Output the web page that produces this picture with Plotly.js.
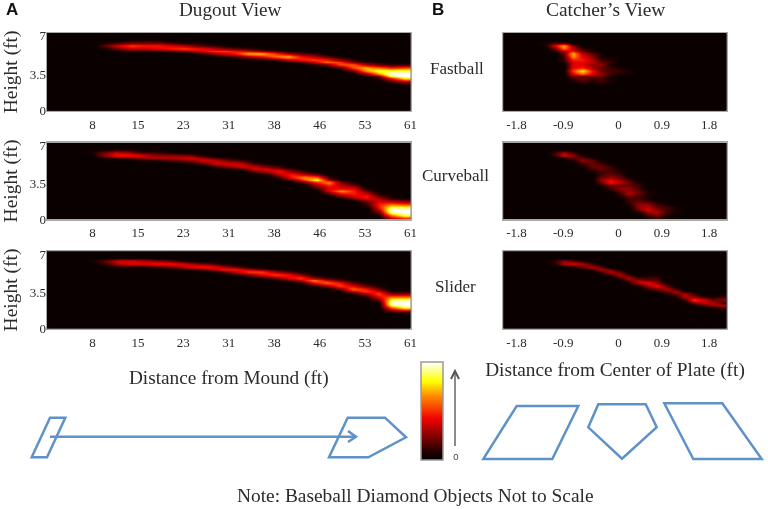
<!DOCTYPE html>
<html>
<head>
<meta charset="utf-8">
<script src="https://cdn.plot.ly/plotly-3.0.1.min.js"></script>
<style>
  html, body { margin: 0; padding: 0; background: #fff; }
  #chart { width: 768px; height: 509px; filter: blur(0.45px); }
</style>
</head>
<body>
<div id="chart"></div>
<script>
// every heatmap is a list of columns: [first row from the top, value, value, ...], values 0-15
const fastballDugout = [[],[],[],[],[3,1,3,1],[3,2,6,3,1],[2,1,3,8,5,1],[2,1,3,7,5,1],[2,1,3,7,6,1],[3,2,6,7,2],
  [3,1,5,8,3],[3,1,3,7,5,1],[4,2,6,7,3],[4,1,4,8,5,1],[5,3,7,7,2],[5,2,6,11,4,1],[5,1,4,11,6,1],[6,3,8,9,2],
  [6,1,5,11,5,1],[7,3,7,7,2],[7,2,5,8,5,1],[8,3,7,9,3],[8,1,4,8,8,2],[9,2,4,9,8,3],[10,2,5,11,10,4,1],
  [10,1,3,9,13,10,3,1],[11,2,7,13,15,13,6,2],[11,2,8,13,15,15,11,4,1]];
const curveballDugout = [[],[],[],[3,1],[3,3,4,1],[2,1,5,7,2],[2,1,4,7,3],[3,2,6,4,1],[3,2,4,5,1],[3,1,4,5,2],
  [4,4,5,3],[4,3,6,4,1],[4,1,4,6,3],[5,2,5,6,2],[5,1,3,6,4,1],[6,2,5,6,2],[7,2,5,6,3],[7,1,3,6,5,1],
  [8,2,4,7,5,2],[9,2,4,7,7,3],[10,2,5,10,8,3],[11,3,9,13,7,4,2],[12,2,4,10,7,6,6,3],[13,1,3,5,6,10,7,3],[14,1,3,6,7,7,6,3],
  [16,1,3,5,7,6,3,2],[18,1,3,5,6,7,7,5,3,1],[19,1,2,5,9,13,15,14,9,5],[20,1,4,8,13,15,15,13,7]];
const sliderDugout = [[],[],[],[3,1],[3,3,2],[2,1,6,5,1],[2,1,6,6,1],[2,1,5,6,1],[3,4,7,2],[3,3,7,3],
  [3,1,6,5,1],[4,4,7,2],[4,3,7,4],[4,1,5,7,2],[5,3,7,5,1],[5,1,5,8,3],[6,3,8,6,1],[6,1,5,8,3],[7,3,7,6,2],
  [7,1,4,8,5,1],[8,1,4,10,6,1],[9,2,6,9,4],[9,1,3,7,8,3],[10,1,3,6,9,5,1],[11,1,3,7,8,4,1],[12,1,3,6,8,6,3],
  [14,1,4,9,13,15,13,8,3],[14,1,4,9,14,15,15,12,4]];
const fastballCatcher = [[],[],[],[],[3,1,1],[3,2,6,3,1],[3,2,11,9,4,3,2,2,1],
  [4,4,5,7,11,10,7,6,6,6,8,6,3,2,1],[5,2,3,5,6,7,6,6,7,12,9,3,3,2],[5,1,1,3,4,5,5,4,4,7,6,3,2,1],
  [7,1,1,2,3,4,3,3,4,3,2,2,1],[8,1,1,2,1,2,2,2,1,1,1],[12,1,2,1],[13,1,1],[],[],[],[],[],[],[],[],[],[]];
const curveballCatcher = [[],[],[],[],[],[3,2,2],[3,4,6,1],[3,2,4,3,1],[4,1,3,4,2,1],[5,1,3,3,3,2,1],
  [6,1,2,3,3,2,2,3,4,3,1],[8,2,2,2,3,4,6,7,3,2,1],[9,1,1,2,3,4,5,3,4,3,2,1],
  [12,1,2,3,3,4,4,5,3,2,2,1],[14,1,2,2,3,3,2,2,3,4,4,3,1],[17,1,1,1,1,2,4,5,6,4,2,1],
  [21,1,2,3,4,5,3,2],[22,1,2,2,2,1,1],[23,1,1,1],[],[],[],[],[]];
const sliderCatcher = [[],[],[],[],[],[3,2,1],[3,4,5],[3,3,6,1],[3,1,5,3],[4,2,5,2],
  [5,3,5,2],[6,3,5,2],[7,3,5,2],[8,2,5,3,1],[9,2,5,5,1],[8,1,2,3,7,4,2],[8,1,2,3,4,7,3,1],
  [11,1,3,5,3,1],[13,2,5,3,1],[14,1,5,5,2],[15,2,4,8,3],[16,2,6,5,2],[16,1,3,5,4,1],[16,2,4,2,5,2]];

const pitchNames = ['Fastball', 'Curveball', 'Slider'];
const moundTicks = [7.625, 15.25, 22.875, 30.5, 38.125, 45.75, 53.375, 61];
const moundLabels = ['8', '15', '23', '31', '38', '46', '53', '61'];
const plateTicks = [-1.83, -0.95, 0.09, 0.91, 1.8];
const plateLabels = ['-1.8', '-0.9', '0', '0.9', '1.8'];
const heightTicks = [0, 3.3, 6.75];
const heightLabels = ['0', '3.5', '7'];

const W = 768, H = 509, ROWS = 28;
const SERIF = '"Liberation Serif", serif';
const INK = '#2b2b2b', BLUE = '#5f92c8', FRAME = '#a8a8a8';
const hot = [[0, '#0a0000'], [0.07, '#1a0000'], [0.42, '#f00000'], [0.66, '#ff9000'], [0.8, '#ffff00'], [1, '#ffffff']];
const rowTops = [[33.1, 110.7], [142.7, 219.3], [251.3, 328.7]];
const px = x => x / W, py = y => 1 - y / H;

// columns -> z, bottom row first
function toZ(cols) {
  const z = [];
  for (let r = ROWS - 1; r >= 0; r--) {
    z.push(cols.map(c => {
      const i = r - c[0] + 1;
      return c.length && i >= 1 && i < c.length ? c[i] : 0;
    }));
  }
  return z;
}

function heat(cols, ax, lo, hi) {
  const dx = (hi - lo) / cols.length;
  return {
    type: 'heatmap', z: toZ(cols), x0: lo + dx / 2, dx: dx, y0: 0.125, dy: 0.25,
    zsmooth: 'best', coloraxis: 'coloraxis', hoverinfo: 'skip',
    xaxis: 'x' + ax, yaxis: 'y' + ax,
  };
}

const traces = [
  heat(fastballDugout, '', 0, 61), heat(curveballDugout, 2, 0, 61), heat(sliderDugout, 3, 0, 61),
  heat(fastballCatcher, 4, -2.08, 2.13), heat(curveballCatcher, 5, -2.08, 2.13), heat(sliderCatcher, 6, -2.08, 2.13),
];

const layout = {
  width: W, height: H, margin: { l: 0, r: 0, t: 0, b: 0 },
  paper_bgcolor: '#fff', plot_bgcolor: '#0a0000', showlegend: false,
  font: { family: SERIF, color: INK, size: 13 },
  coloraxis: {
    cmin: 0, cmax: 15, colorscale: hot,
    colorbar: {
      x: px(421), xanchor: 'left', y: py(460), yanchor: 'bottom', xpad: 0, ypad: 0,
      lenmode: 'pixels', len: 98, thicknessmode: 'pixels', thickness: 22,
      outlinecolor: '#999', outlinewidth: 1.5,
      tickmode: 'array', tickvals: [0.5], ticktext: ['0'], ticks: 'outside', ticklen: 8, tickcolor: 'rgba(0,0,0,0)',
      tickfont: { size: 9.5, family: '"Liberation Sans", sans-serif', color: '#444' },
    },
  },
  annotations: [],
  shapes: [],
};

function addAxes(i, side) {
  const n = i + side * 3 + 1, tag = n === 1 ? '' : n;
  const [top, bottom] = rowTops[i];
  const line = { showline: true, mirror: true, linecolor: FRAME, linewidth: 1.5, showgrid: false, zeroline: false, fixedrange: true };
  const title = i === 2
    ? { text: side ? 'Distance from Center of Plate (ft)' : 'Distance from Mound (ft)', font: { size: 19.3 }, standoff: side ? 13 : 21 }
    : undefined;
  layout['xaxis' + tag] = {
    ...line, anchor: 'y' + tag,
    domain: side ? [px(503.3), px(726.7)] : [px(47), px(410.5)],
    range: side ? [-2.08, 2.13] : [0, 61],
    tickmode: 'array', tickvals: side ? plateTicks : moundTicks, ticktext: side ? plateLabels : moundLabels,
    ticks: 'outside', ticklen: 1, tickcolor: 'rgba(0,0,0,0)', title: title,
  };
  layout['yaxis' + tag] = {
    ...line, anchor: 'x' + tag,
    domain: [py(bottom), py(top)], range: [0, 7], ticks: '',
    tickmode: 'array', tickvals: heightTicks, ticktext: heightLabels, showticklabels: !side, ticklabelstandoff: -3,
    title: side ? undefined : { text: 'Height (ft)', font: { size: 19.5 }, standoff: 8 },
  };
}
[0, 1, 2].forEach(i => { addAxes(i, 0); addAxes(i, 1); });

function note(text, x, y, size, extra) {
  layout.annotations.push({
    text: text, x: px(x), y: py(y), xref: 'paper', yref: 'paper', showarrow: false,
    xanchor: 'center', yanchor: 'middle', font: { size: size }, ...extra,
  });
}
const BOLD = { font: { size: 17, family: '"Liberation Sans", sans-serif', color: '#111' } };
note('<b>A</b>', 12, 10, 17, BOLD);
note('<b>B</b>', 438, 10, 17, BOLD);
note('Dugout View', 230, 10, 19.2);
note('Catcher’s View', 605, 10, 19.4);
note(pitchNames[0], 457, 68, 17);
note(pitchNames[1], 455, 175, 17);
note(pitchNames[2], 455, 286, 17);
note('Note: Baseball Diamond Objects Not to Scale', 415, 495, 19.4);

// baseball diamond outlines and arrows, in page pixels
function outline(pts, color, width, closed) {
  const d = pts.map((p, k) => (k ? 'L' : 'M') + px(p[0]) + ',' + py(p[1])).join(' ') + (closed ? ' Z' : '');
  layout.shapes.push({ type: 'path', path: d, xref: 'paper', yref: 'paper', line: { color: color, width: width } });
}
const diamonds = [
  [[50, 417.7], [65.3, 417.7], [47, 457.3], [31.7, 457.3]],
  [[347.7, 417.7], [385, 417.7], [406, 437.3], [368.3, 457.3], [329, 457.3]],
  [[516.7, 406], [578.3, 406], [552.3, 459], [483.3, 459]],
  [[598.3, 404.3], [645.7, 404.3], [656.7, 427.3], [622, 458.7], [588.3, 427.3]],
  [[664.3, 403.3], [722.3, 403.3], [761.7, 459], [693.3, 459]],
];
diamonds.forEach(d => outline(d, BLUE, 2.5, true));
outline([[50, 436.7], [356, 436.7]], BLUE, 2.5);
outline([[348, 431], [356, 436.7], [348, 442]], BLUE, 2.5);
outline([[455, 446], [455, 371]], '#666', 1.5);
outline([[451, 379], [455, 371], [459, 379]], '#555', 2);

Plotly.newPlot('chart', traces, layout, { displayModeBar: false, staticPlot: true });
</script>
</body>
</html>
